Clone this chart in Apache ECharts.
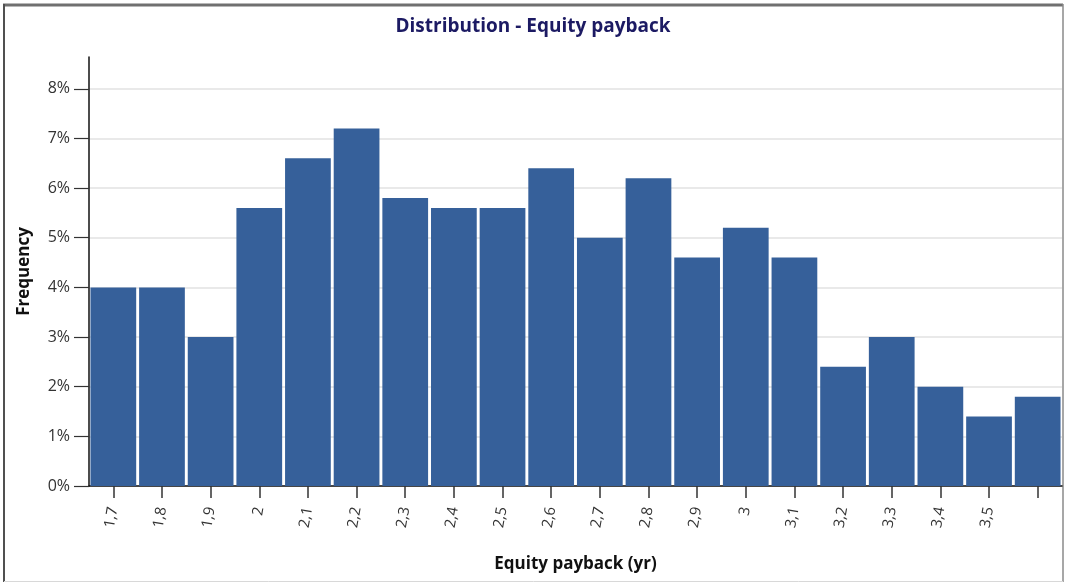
<!DOCTYPE html>
<html>
<head>
<meta charset="utf-8">
<script src="https://cdn.jsdelivr.net/npm/echarts@6/dist/echarts.min.js"></script>
<style>
html,body{margin:0;padding:0;background:#fff;}
#chart{width:1066px;height:583px;}
</style>
</head>
<body>
<div id="chart"></div>
<script>
// Bin centres (yr) on the x axis
const categories = ['1.7','1.8','1.9','2.0','2.1','2.2','2.3','2.4','2.5','2.6','2.7','2.8','2.9','3.0','3.1','3.2','3.3','3.4','3.5','3.6'];
// Tick labels shown under the axis (last bin unlabeled in the reference)
const xTickLabels = ['1,7','1,8','1,9','2','2,1','2,2','2,3','2,4','2,5','2,6','2,7','2,8','2,9','3','3,1','3,2','3,3','3,4','3,5'];
// Frequency (%) per bin
const frequency = [4.0,4.0,3.0,5.6,6.6,7.2,5.8,5.6,5.6,6.4,5.0,6.2,4.6,5.2,4.6,2.4,3.0,2.0,1.4,1.8];
// Y tick values (%)
const yTicks = [0,1,2,3,4,5,6,7,8];

const FONT = '"Open Sans", "Noto Sans", sans-serif';
const chart = echarts.init(document.getElementById('chart'), null, {renderer:'canvas'});
chart.setOption({
  animation:false,
  backgroundColor:'#fff',
  title:{
    text:'Distribution - Equity payback',
    left:'center', top:12,
    textStyle:{fontFamily:FONT, fontSize:19, fontWeight:'bold', color:'#1c1a63'}
  },
  grid:{left:89, right:4, top:57, bottom:97},
  xAxis:{
    type:'category',
    data:categories,
    boundaryGap:true,
    name:'Equity payback (yr)',
    nameLocation:'middle',
    nameGap:70,
    nameTextStyle:{fontFamily:FONT, fontSize:17, fontWeight:'bold', color:'#111'},
    axisLine:{show:true, lineStyle:{color:'#111', width:1.5}},
    axisTick:{show:true, alignWithLabel:true, interval:0, length:12, lineStyle:{color:'#333', width:1.5}},
    axisLabel:{
      show:true, interval:0, rotate:80, margin:21,
      fontFamily:FONT, fontSize:15, color:'#333',
      formatter:function(v, i){ return i < xTickLabels.length ? xTickLabels[i] : ''; }
    }
  },
  yAxis:{
    type:'value',
    min:0, max:8.64,
    name:'Frequency',
    nameLocation:'middle',
    nameGap:56,
    nameRotate:90,
    nameTextStyle:{fontFamily:FONT, fontSize:17, fontWeight:'bold', color:'#111'},
    axisLine:{show:true, lineStyle:{color:'#111', width:1.5}},
    axisTick:{show:true, length:15, customValues:yTicks, lineStyle:{color:'#333', width:1.2}},
    axisLabel:{customValues:yTicks, margin:19, fontFamily:FONT, fontSize:16, color:'#333',
      formatter:function(v){ return v + '%'; }},
    splitLine:{show:true, lineStyle:{color:'#e2e2e2', width:1.5}}
  },
  series:[{
    type:'bar',
    data:frequency,
    barCategoryGap:'6%',
    itemStyle:{color:'#36609a'}
  }],
  graphic:[
    {type:'line', shape:{x1:3, y1:5, x2:1063, y2:5}, style:{stroke:'#707070', lineWidth:3}, silent:true},
    {type:'line', shape:{x1:4, y1:4, x2:4, y2:582}, style:{stroke:'#505050', lineWidth:2}, silent:true},
    {type:'line', shape:{x1:1063, y1:4, x2:1063, y2:582}, style:{stroke:'#8a8a8a', lineWidth:1.5}, silent:true},
    {type:'line', shape:{x1:4, y1:581.5, x2:1063, y2:581.5}, style:{stroke:'#d8d8d8', lineWidth:1}, silent:true}
  ]
});
</script>
</body>
</html>
